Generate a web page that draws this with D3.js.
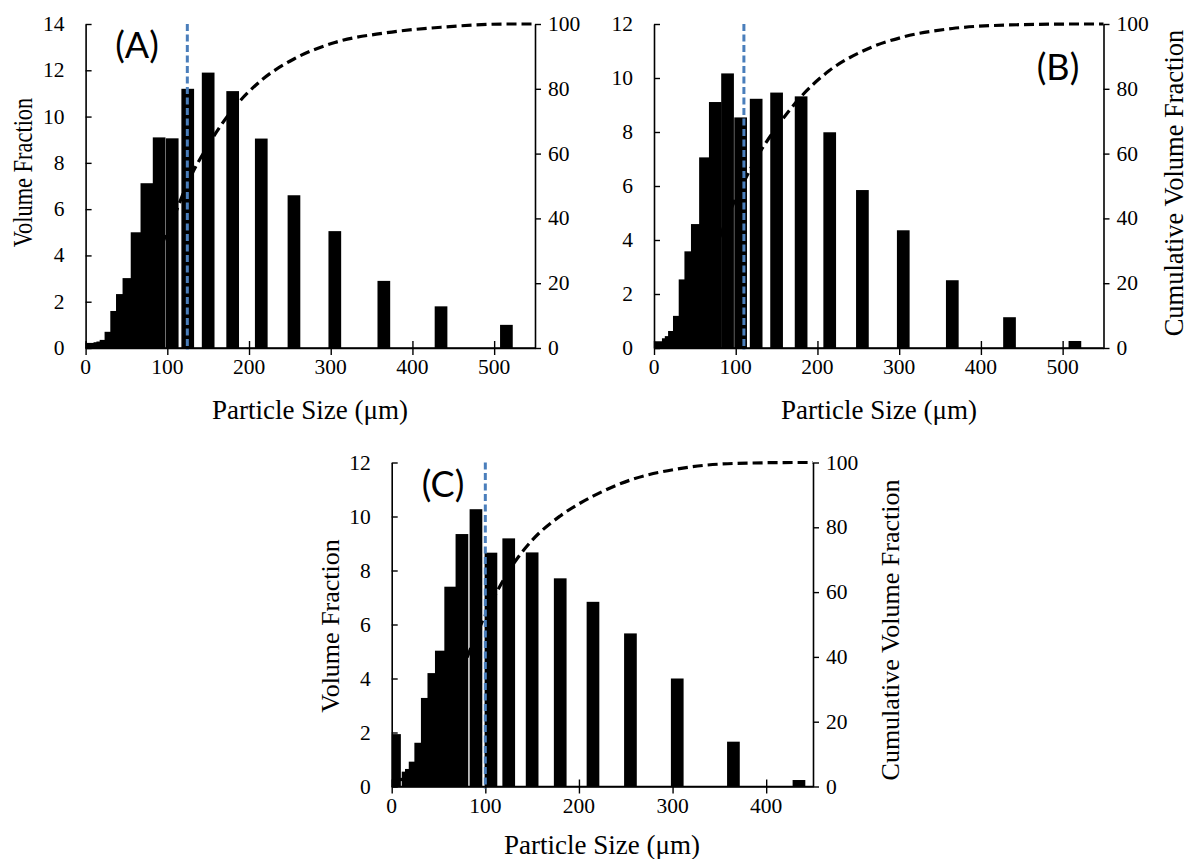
<!DOCTYPE html>
<html>
<head>
<meta charset="utf-8">
<script src="https://cdn.jsdelivr.net/npm/d3@7"></script>
<style>
  html, body { margin: 0; padding: 0; background: #fff; }
  svg { display: block; }
</style>
</head>
<body>
<svg id="chart" width="1190" height="859"></svg>
<script>
// ---------------- DATA ----------------
// bin centres (particle size, µm)
const sizes = [3, 17.5, 21, 25, 31, 38, 45, 53, 63, 75, 90, 106, 125, 150, 180, 215, 255, 305, 365, 435, 515];
// volume fraction (%) per bin
const volA = [0.22, 0.25, 0.28, 0.35, 0.70, 1.60, 2.33, 3.02, 5.00, 7.12, 9.10, 9.06, 11.20, 11.90, 11.10, 9.05, 6.60, 5.05, 2.90, 1.80, 1.00];
const volB = [0.25, 0.36, 0.44, 0.63, 1.19, 2.54, 3.58, 4.59, 7.06, 9.11, 10.17, 8.54, 9.23, 9.46, 9.32, 7.99, 5.85, 4.36, 2.51, 1.14, 0.26];
const volC = [1.94, 0.55, 0.65, 0.92, 1.62, 3.28, 4.20, 5.03, 7.40, 9.35, 10.27, 8.66, 9.19, 8.67, 7.71, 6.84, 5.67, 4.00, 1.66, 0.24];
// cumulative volume fraction (%) curve points
const cumSizesAB = [3, 17.5, 21, 25, 31, 38, 45, 53, 63, 75, 90, 106, 125, 150, 180, 215, 255, 305, 365, 435, 515, 550];
const cumA = [0.2, 0.5, 0.8, 1.1, 1.8, 3.4, 5.8, 8.8, 13.8, 20.9, 30.1, 39.2, 51.0, 62.6, 73.6, 82.6, 89.2, 94.3, 97.2, 99.0, 100, 100];
const cumB = [0.3, 0.6, 1.1, 1.7, 2.9, 5.5, 9.1, 13.8, 20.9, 30.2, 40.5, 49.2, 58.5, 68.1, 77.6, 85.7, 91.6, 96.0, 98.6, 99.7, 100, 100];
const cumSizesC = [3, 17.5, 21, 25, 31, 38, 45, 53, 63, 75, 90, 106, 125, 150, 180, 215, 255, 305, 365, 435, 450];
const cumC = [2.0, 2.5, 3.2, 4.1, 5.8, 9.2, 13.4, 18.6, 26.2, 35.7, 46.5, 56.5, 66.5, 76.0, 83.5, 89.6, 94.6, 98.0, 99.7, 100, 100];
// median size marker (µm)
const d50 = [124.5, 110, 100];
// tick labels
const xTicksAB = [0, 100, 200, 300, 400, 500];
const xTicksC = [0, 100, 200, 300, 400];
const yTicksA = [0, 2, 4, 6, 8, 10, 12, 14];
const yTicksBC = [0, 2, 4, 6, 8, 10, 12];
const cumTicks = [0, 20, 40, 60, 80, 100];
const panelNames = ["(A)", "(B)", "(C)"];
const xTitle = "Particle Size (\u03bcm)";
const yTitle = "Volume Fraction";
const y2Title = "Cumulative Volume Fraction";

// ---------------- LAYOUT ----------------
const svg = d3.select("#chart");
const SERIF = "'Liberation Serif', 'Times New Roman', serif";
const SANS = "Lato, 'Open Sans', Calibri, sans-serif";
const BAR_W = 12.7;

const panels = [
  { id: "A", x0: 85.6, x1: 535, y0: 348, y1: 24, xMax: 550, yMax: 14,
    sizes: sizes, vol: volA, cs: cumSizesAB, cum: cumA, d50: d50[0], xTicks: xTicksAB, yTicks: yTicksA,
    name: panelNames[0], nameX: 137, nameY: 58,
    left: { x: 32, y: 172.5, fs: 27, sx: 0.83 }, right: null,
    xTickY: 374, xTitleY: 419, xTitleX: 310 },
  { id: "B", x0: 654, x1: 1103.5, y0: 348, y1: 24, xMax: 550, yMax: 12,
    sizes: sizes, vol: volB, cs: cumSizesAB, cum: cumB, d50: d50[1], xTicks: xTicksAB, yTicks: yTicksBC,
    name: panelNames[1], nameX: 1058, nameY: 80,
    left: null, right: { x: 1183, y: 183, fs: 26.5, sx: 1.0 },
    xTickY: 374, xTitleY: 419, xTitleX: 879 },
  { id: "C", x0: 391.7, x1: 813, y0: 786.5, y1: 462.5, xMax: 450, yMax: 12,
    sizes: sizes.slice(0, volC.length), vol: volC, cs: cumSizesC, cum: cumC, d50: d50[2], xTicks: xTicksC, yTicks: yTicksBC,
    name: panelNames[2], nameX: 443, nameY: 497,
    left: { x: 339, y: 626, fs: 26, sx: 1.0 }, right: { x: 899, y: 630, fs: 26, sx: 1.0 },
    xTickY: 813, xTitleY: 854, xTitleX: 602 }
];

panels.forEach(p => {
  const x = d3.scaleLinear().domain([0, p.xMax]).range([p.x0, p.x1]);
  const y = d3.scaleLinear().domain([0, p.yMax]).range([p.y0, p.y1]);
  const y2 = d3.scaleLinear().domain([0, 100]).range([p.y0, p.y1]);
  const g = svg.append("g").attr("class", "panel-" + p.id);

  const clipId = "clip" + p.id;
  svg.append("clipPath").attr("id", clipId)
    .append("rect").attr("x", p.x0).attr("y", p.y1 - 10)
    .attr("width", p.x1 - p.x0).attr("height", p.y0 - p.y1 + 10);

  // axes (drawn first; bars cover parts of the ticks as in the original)
  const xAxis = d3.axisBottom(x).tickValues(p.xTicks).tickFormat(d3.format("d"))
    .tickSizeInner(7).tickSizeOuter(0).tickPadding(5);
  const gx = g.append("g").attr("transform", `translate(0,${p.y0})`).call(xAxis);
  gx.selectAll(".tick line").attr("y1", -7).attr("y2", 7);
  gx.selectAll(".tick text").remove();

  const yAxis = d3.axisLeft(y).tickValues(p.yTicks).tickSizeInner(-6).tickSizeOuter(0);
  const gy = g.append("g").attr("transform", `translate(${p.x0},0)`).call(yAxis);
  gy.selectAll(".tick text").remove();

  const y2Axis = d3.axisRight(y2).tickValues(cumTicks).tickSizeInner(6).tickSizeOuter(0);
  const gy2 = g.append("g").attr("transform", `translate(${p.x1},0)`).call(y2Axis);
  gy2.selectAll(".tick text").remove();

  [gx, gy, gy2].forEach(a => {
    a.select(".domain").attr("stroke", "#000").attr("stroke-width", 1.6);
    a.selectAll(".tick line").attr("stroke", "#000").attr("stroke-width", 1.4);
  });

  // bars
  g.append("g").attr("clip-path", `url(#${clipId})`)
    .selectAll("rect").data(p.vol).join("rect")
    .attr("x", (d, i) => x(p.sizes[i]) - BAR_W / 2)
    .attr("width", BAR_W)
    .attr("y", d => y(d))
    .attr("height", d => p.y0 - y(d))
    .attr("fill", "#000");

  // cumulative curve
  const line = d3.line().x((d, i) => x(p.cs[i])).y(d => y2(d)).curve(d3.curveMonotoneX);
  g.append("path").datum(p.cum).attr("d", line)
    .attr("fill", "none").attr("stroke", "#000").attr("stroke-width", 3.2)
    .attr("stroke-dasharray", "10,5");

  // median line
  g.append("line").attr("x1", x(p.d50)).attr("x2", x(p.d50))
    .attr("y1", p.y1).attr("y2", p.y0 + 2)
    .attr("stroke", "#4a7ebb").attr("stroke-width", 3)
    .attr("stroke-dasharray", "7,3.5");

  // redraw x axis line on top
  g.append("line").attr("x1", p.x0).attr("x2", p.x1).attr("y1", p.y0).attr("y2", p.y0)
    .attr("stroke", "#000").attr("stroke-width", 1.6);

  // tick labels
  g.append("g").selectAll("text").data(p.xTicks).join("text")
    .attr("x", d => x(d)).attr("y", p.xTickY).attr("text-anchor", "middle")
    .attr("font-family", SERIF).attr("font-size", 21.5).text(d => d);
  g.append("g").selectAll("text").data(p.yTicks).join("text")
    .attr("x", p.x0 - 21).attr("y", d => y(d) + 7).attr("text-anchor", "end")
    .attr("font-family", SERIF).attr("font-size", 21.5).text(d => d);
  g.append("g").selectAll("text").data(cumTicks).join("text")
    .attr("x", p.x1 + 13).attr("y", d => y2(d) + 7).attr("text-anchor", "start")
    .attr("font-family", SERIF).attr("font-size", 21.5).text(d => d);

  // titles
  g.append("text").attr("x", p.xTitleX).attr("y", p.xTitleY).attr("text-anchor", "middle")
    .attr("font-family", SERIF).attr("font-size", 27).text(xTitle);
  if (p.left) {
    g.append("text").attr("transform", `translate(${p.left.x},${p.left.y}) rotate(-90) scale(${p.left.sx},1)`)
      .attr("text-anchor", "middle").attr("font-family", SERIF).attr("font-size", p.left.fs).text(yTitle);
  }
  if (p.right) {
    g.append("text").attr("transform", `translate(${p.right.x},${p.right.y}) rotate(-90) scale(${p.right.sx},1)`)
      .attr("text-anchor", "middle").attr("font-family", SERIF).attr("font-size", p.right.fs).text(y2Title);
  }
  g.append("text").attr("x", p.nameX).attr("y", p.nameY).attr("text-anchor", "middle")
    .attr("font-family", SANS).attr("font-size", 36).text(p.name);
});
</script>
</body>
</html>
